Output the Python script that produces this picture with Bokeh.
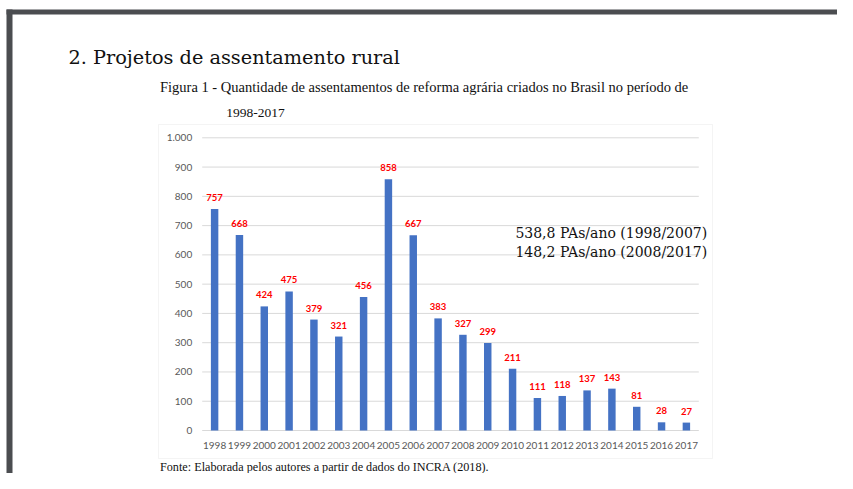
from bokeh.plotting import figure
from bokeh.models import Range1d, FixedTicker, Label, BoxAnnotation, ColumnDataSource
from bokeh.core.properties import value
from bokeh.embed import file_html
from bokeh.resources import INLINE

# ---- data ----
years = [1998, 1999, 2000, 2001, 2002, 2003, 2004, 2005, 2006, 2007,
         2008, 2009, 2010, 2011, 2012, 2013, 2014, 2015, 2016, 2017]
assentamentos = [757, 668, 424, 475, 379, 321, 456, 858, 667, 383,
                 327, 299, 211, 111, 118, 137, 143, 81, 28, 27]
y_ticks = [0, 100, 200, 300, 400, 500, 600, 700, 800, 900, 1000]
y_tick_labels = {1000: "1.000"}
heading = "2. Projetos de assentamento rural"
caption_1 = "Figura 1 - Quantidade de assentamentos de reforma agrária criados no Brasil no período de"
caption_2 = "1998-2017"
media_1 = "538,8 PAs/ano (1998/2007)"
media_2 = "148,2 PAs/ano (2008/2017)"
fonte = "Fonte: Elaborada pelos autores a partir de dados do INCRA (2018)."

# ---- geometry (pixel anchors of the chart area) ----
W, H = 837, 473
XA, XB = years[0] - 0.5, years[-1] + 0.5
YA, YB = y_ticks[0], y_ticks[-1]
PX_A, PX_B = 201.7, 698.3
PY_A, PY_B = 430.0, 137.3
kx = (PX_B - PX_A) / (XB - XA)
ky = (PY_A - PY_B) / (YB - YA)


def dx(px):
    return XA + (px - PX_A) / kx


def dy(py):
    return YA + (PY_A - py) / ky


p = figure(width=W, height=H, output_backend="svg", toolbar_location=None,
           x_range=Range1d(dx(0), dx(W)), y_range=Range1d(dy(H), dy(0)),
           min_border=0)
p.background_fill_color = "white"
p.border_fill_color = "white"
p.outline_line_color = None
p.grid.visible = False

# axes drawn inside the frame at the chart's edges
p.xaxis.fixed_location = YA
p.yaxis.fixed_location = XA
p.xaxis.ticker = FixedTicker(ticks=years)
p.yaxis.ticker = FixedTicker(ticks=y_ticks)
p.yaxis.major_label_overrides = y_tick_labels
for ax in (p.xaxis[0], p.yaxis[0]):
    ax.axis_line_color = None
    ax.major_tick_line_color = None
    ax.minor_tick_line_color = None
    ax.major_tick_out = 0
    ax.major_tick_in = 0
    ax.major_label_text_font = "Lato"
    ax.major_label_text_font_size = "10px"
    ax.major_label_text_color = "#595959"
p.xaxis.major_label_standoff = 11
p.yaxis.major_label_standoff = 10

# horizontal gridlines limited to the chart area
p.segment(x0=[XA] * len(y_ticks), x1=[XB] * len(y_ticks), y0=y_ticks, y1=y_ticks,
          line_color="#d9d9d9", line_width=1)

src = ColumnDataSource(dict(x=years, top=assentamentos,
                            lab=[str(v) for v in assentamentos]))
p.vbar(x="x", top="top", width=0.3, source=src, fill_color="#4472c4",
       line_color=None)
p.text(x="x", y="top", text="lab", source=src, text_align="center",
       text_baseline="middle", y_offset=-11.5, text_color="#ff0000",
       text_font=value("Lato"), text_font_style="bold",
       text_font_size="9.5px")

# chart box
p.add_layout(BoxAnnotation(left=dx(158), right=dx(712), top=dy(124), bottom=dy(458),
                           fill_alpha=0, line_color="#d9d9d9", line_width=1))
# dark page frame
dark = "#4b4d50"
p.add_layout(BoxAnnotation(left=dx(6), right=dx(W + 5), top=dy(9), bottom=dy(14),
                           fill_color=dark, fill_alpha=1, line_color=None))
p.add_layout(BoxAnnotation(left=dx(6), right=dx(12), top=dy(9), bottom=dy(H + 5),
                           fill_color=dark, fill_alpha=1, line_color=None))


def lab(text, px, py, font, size, align="left", color="#111111"):
    p.add_layout(Label(x=dx(px), y=dy(py), text=text, text_font=font,
                       text_font_size=size, text_align=align,
                       text_baseline="alphabetic", text_color=color))


lab(heading, 68, 56.5, "DejaVu Serif", "19.3px")
lab(caption_1, 159.5, 86.7, "Liberation Serif", "14.5px")
lab(caption_2, 225.7, 112.7, "Liberation Serif", "13.5px")
lab(media_1, 706.7, 232.7, "DejaVu Serif", "14px", align="right")
lab(media_2, 706.7, 251, "DejaVu Serif", "14px", align="right")
lab(fonte, 159.5, 466.5, "Liberation Serif", "12.2px")

open("out.html", "w").write(file_html(p, INLINE))
